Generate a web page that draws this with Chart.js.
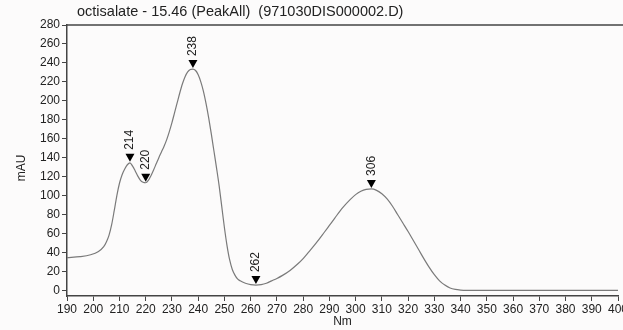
<!DOCTYPE html>
<html>
<head>
<meta charset="utf-8">
<script src="https://cdn.jsdelivr.net/npm/chart.js@4"></script>
<style>
  html, body { margin: 0; padding: 0; background: #fcfbfb; }
  #wrap { width: 623px; height: 330px; position: relative; }
</style>
</head>
<body>
<div id="wrap"><canvas id="chart-spectrum"></canvas></div>
<script>
// Wavelength (nm) and absorbance (mAU)
const wavelengths = [190, 195, 199, 202, 204, 205, 206, 207, 208, 209, 210, 211, 212, 213, 214, 215, 216, 217, 218, 219, 220,
    221, 222, 223, 224, 225, 226, 227, 228, 229, 230, 231, 232, 233, 234, 235, 236, 237, 238, 239, 240,
    241, 242, 243, 244, 245, 246, 247, 248, 249, 250, 251, 252, 253, 254, 255, 256, 258, 260, 262, 264,
    266, 268, 270, 272, 275, 278, 280, 282, 285, 288, 290, 292, 295, 298, 300, 302, 304, 306, 308, 310,
    312, 314, 316, 318, 320, 322, 324, 326, 328, 330, 332, 334, 336, 338, 340, 342, 350, 360, 370, 380, 390, 400];
const absorbance = [34.5, 35.5, 37.5, 41, 46, 51, 58, 69, 84, 100, 113, 122, 128, 132.5, 134.5, 131, 126, 120.5, 116, 114, 113.5,
    116, 121, 127, 133.5, 140, 146, 152, 159, 167.5, 177, 187.5, 198, 208.5, 218, 225.5, 230.5, 233, 233.5, 232, 227.5,
    220, 210, 197, 182, 165, 147, 129, 110, 88, 66, 47, 32, 22, 16, 12, 10, 7.5, 6, 5.5, 6,
    7.5, 10, 12.5, 15.5, 21, 28, 33.5, 40, 50, 61, 68.5, 76, 87, 96, 101, 104.5, 106.5, 107, 105.5, 102,
    96.5, 89, 80, 71, 62, 52.5, 43, 33.5, 24.5, 16.5, 10, 5.5, 2.5, 1, 0.3, 0, 0, 0, 0, 0, 0, 0];

// Peaks marked by the integrator
const peakLabels = ['214', '220', '238', '262', '306'];
const peakWavelengths = [214, 220, 238, 262, 306];

const xTicks = [190, 200, 210, 220, 230, 240, 250, 260, 270, 280, 290, 300, 310, 320, 330, 340, 350, 360, 370, 380, 390, 400];
const yTicks = [0, 20, 40, 60, 80, 100, 120, 140, 160, 180, 200, 220, 240, 260, 280];

const titleText = 'octisalate - 15.46 (PeakAll)  (971030DIS000002.D)';
const FONT = "'Liberation Sans', Arial, sans-serif";

function valueAt(w) {
    for (let i = 0; i < wavelengths.length - 1; i++) {
        if (w >= wavelengths[i] && w <= wavelengths[i + 1]) {
            const t = (w - wavelengths[i]) / (wavelengths[i + 1] - wavelengths[i]);
            return absorbance[i] + t * (absorbance[i + 1] - absorbance[i]);
        }
    }
    return 0;
}

// Background, frame line at top, title, axis titles and peak markers
const decorPlugin = {
    id: 'decor',
    beforeDraw(chart) {
        const ctx = chart.ctx;
        ctx.save();
        ctx.fillStyle = '#fcfbfb';
        ctx.fillRect(0, 0, chart.width, chart.height);
        ctx.restore();
    },
    afterDraw(chart) {
        const ctx = chart.ctx;
        const area = chart.chartArea;
        const xs = chart.scales.x;
        const ys = chart.scales.y;
        ctx.save();

        // top frame line
        ctx.strokeStyle = '#444';
        ctx.lineWidth = 1.5;
        ctx.beginPath();
        ctx.moveTo(area.left, area.top);
        ctx.lineTo(chart.width, area.top);
        ctx.stroke();

        // title
        ctx.fillStyle = '#222';
        ctx.font = '14.5px ' + FONT;
        ctx.textAlign = 'left';
        ctx.textBaseline = 'middle';
        ctx.fillText(titleText, area.left + 10, 12);

        // axis titles
        ctx.font = '12px ' + FONT;
        ctx.textAlign = 'center';
        ctx.fillText('Nm', (area.left + area.right) / 2, 322);
        ctx.save();
        ctx.translate(22, 168);
        ctx.rotate(-Math.PI / 2);
        ctx.fillText('mAU', 0, 0);
        ctx.restore();

        // peak markers
        peakWavelengths.forEach((w, i) => {
            const px = xs.getPixelForValue(w);
            const py = ys.getPixelForValue(valueAt(w)) - 1;
            ctx.fillStyle = '#000';
            ctx.beginPath();
            ctx.moveTo(px, py);
            ctx.lineTo(px - 4.5, py - 8);
            ctx.lineTo(px + 4.5, py - 8);
            ctx.closePath();
            ctx.fill();

            ctx.save();
            ctx.translate(px, py - 12);
            ctx.rotate(-Math.PI / 2);
            ctx.font = '12px ' + FONT;
            ctx.fillStyle = '#222';
            ctx.textAlign = 'left';
            ctx.textBaseline = 'middle';
            ctx.fillText(peakLabels[i], 0, 0);
            ctx.restore();
        });
        ctx.restore();
    }
};

new Chart(document.getElementById('chart-spectrum').getContext('2d'), {
    type: 'line',
    data: {
        datasets: [{
            data: wavelengths.map((w, i) => ({ x: w, y: absorbance[i] })),
            borderColor: '#7a7a7a',
            borderWidth: 1.2,
            pointRadius: 0,
            cubicInterpolationMode: 'monotone',
            fill: false
        }]
    },
    options: {
        responsive: true,
        maintainAspectRatio: false,
        animation: false,
        events: [],
        layout: { padding: { left: 0, top: 25, right: 5, bottom: 0 } },
        plugins: {
            legend: { display: false },
            tooltip: { enabled: false },
            title: { display: false }
        },
        scales: {
            x: {
                type: 'linear',
                min: 190,
                max: 400,
                afterBuildTicks: (scale) => { scale.ticks = xTicks.map(v => ({ value: v })); },
                afterFit: (scale) => { scale.height = 34; scale.paddingLeft = 0; scale.paddingRight = 0; },
                border: { color: '#444', width: 1.5 },
                grid: { drawOnChartArea: false, color: '#444', tickLength: 5 },
                ticks: { color: '#222', font: { family: FONT, size: 12 }, padding: 1, maxRotation: 0, autoSkip: false }
            },
            y: {
                min: -6,
                max: 280,
                afterBuildTicks: (scale) => { scale.ticks = yTicks.map(v => ({ value: v })); },
                afterFit: (scale) => { scale.width = 67; scale.paddingTop = 0; scale.paddingBottom = 0; },
                border: { color: '#444', width: 1.5 },
                grid: { drawOnChartArea: false, color: '#444', tickLength: 5 },
                ticks: { color: '#222', font: { family: FONT, size: 12 }, padding: 2, autoSkip: false }
            }
        }
    },
    plugins: [decorPlugin]
});
</script>
</body>
</html>
